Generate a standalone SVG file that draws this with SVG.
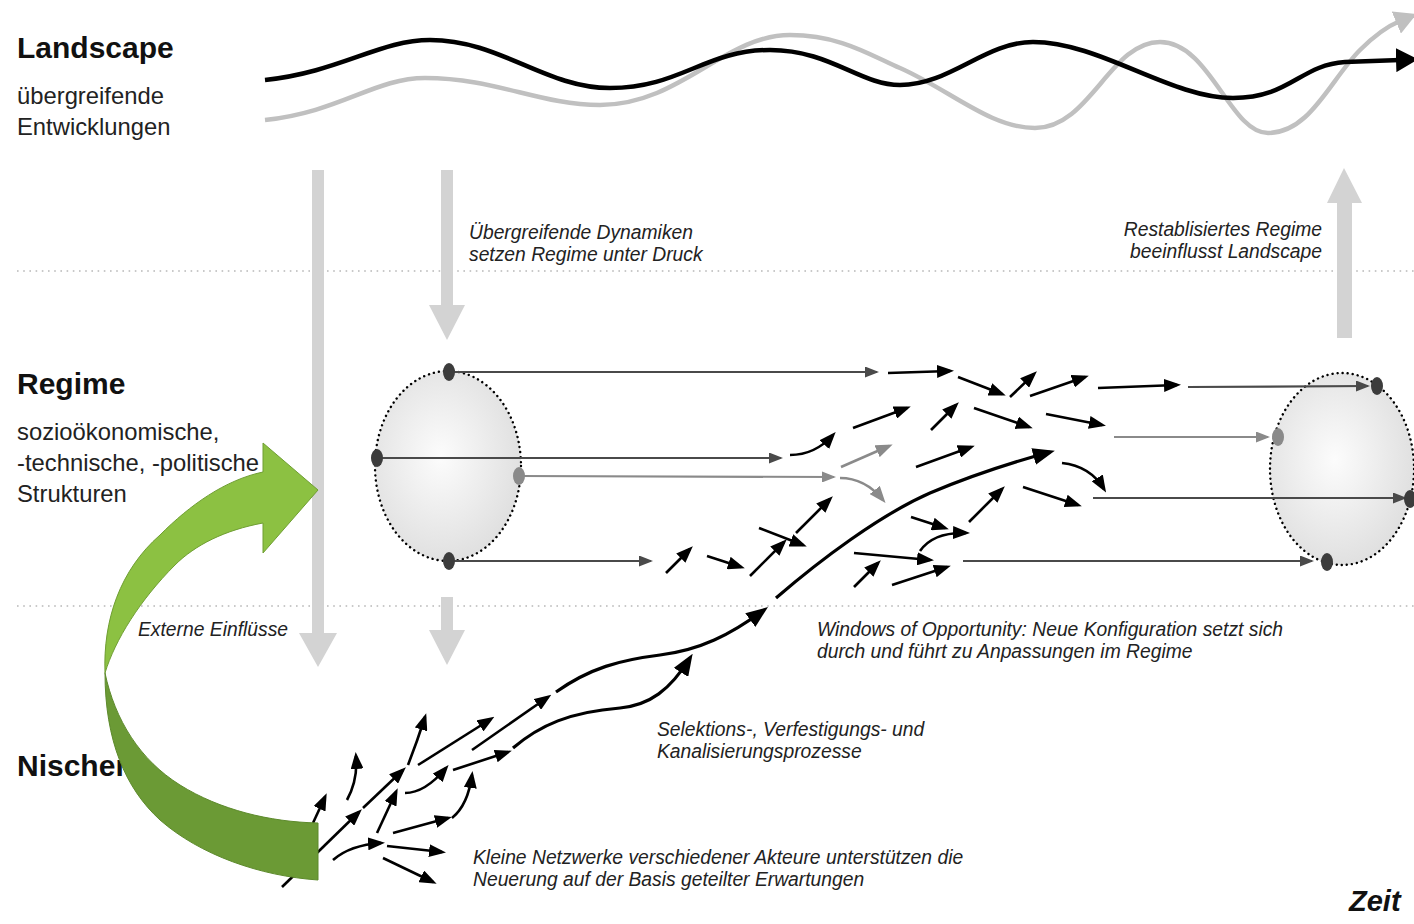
<svg xmlns="http://www.w3.org/2000/svg" width="1414" height="924" viewBox="0 0 1414 924">
<style>
.title{font-family:"Liberation Sans",Arial,sans-serif;font-weight:bold;font-size:30px;fill:#111}
.sub{font-family:"Liberation Sans",Arial,sans-serif;font-size:23.8px;fill:#222}
.note{font-family:"Liberation Sans",Arial,sans-serif;font-style:italic;font-size:19.3px;fill:#222}
.zeit{font-family:"Liberation Sans",Arial,sans-serif;font-style:italic;font-weight:bold;font-size:29px;fill:#111}
.dots{stroke:#b8b8b8;stroke-width:1.6;stroke-dasharray:1.6 4.6;fill:none}
.bar{fill:#d3d3d3}
.rl{stroke:#4a4a4a;stroke-width:2.2;fill:none;marker-end:url(#mdk)}
.rg{stroke:#8a8a8a;stroke-width:2.2;fill:none;marker-end:url(#mgr)}
.sa{stroke:#000;stroke-width:2.6;fill:none;marker-end:url(#mb)}
.sg{stroke:#8a8a8a;stroke-width:2.6;fill:none;marker-end:url(#mg2)}
.ba{stroke:#000;stroke-width:3.2;fill:none;marker-end:url(#mbig)}
.ell{stroke:#000;stroke-width:2.4;stroke-dasharray:0.1 5;stroke-linecap:round;fill:url(#eg)}
</style>
<defs>
<radialGradient id="eg" cx="0.45" cy="0.45" r="0.6">
<stop offset="0" stop-color="#fcfcfc"/>
<stop offset="1" stop-color="#dedede"/>
</radialGradient>
<marker id="mb" markerUnits="userSpaceOnUse" markerWidth="17" markerHeight="13" viewBox="0 0 17 13" refX="13" refY="6.5" orient="auto"><path d="M0,0L17,6.5L0,13Z" fill="#000"/></marker>
<marker id="mg2" markerUnits="userSpaceOnUse" markerWidth="17" markerHeight="13" viewBox="0 0 17 13" refX="13" refY="6.5" orient="auto"><path d="M0,0L17,6.5L0,13Z" fill="#8a8a8a"/></marker>
<marker id="mdk" markerUnits="userSpaceOnUse" markerWidth="14" markerHeight="11" viewBox="0 0 14 11" refX="12" refY="5.5" orient="auto"><path d="M0,0L14,5.5L0,11Z" fill="#4a4a4a"/></marker>
<marker id="mgr" markerUnits="userSpaceOnUse" markerWidth="14" markerHeight="11" viewBox="0 0 14 11" refX="12" refY="5.5" orient="auto"><path d="M0,0L14,5.5L0,11Z" fill="#8a8a8a"/></marker>
<marker id="mbig" markerUnits="userSpaceOnUse" markerWidth="22" markerHeight="17" viewBox="0 0 22 17" refX="17" refY="8.5" orient="auto"><path d="M0,0L22,8.5L0,17Z" fill="#000"/></marker>
<marker id="mwb" markerUnits="userSpaceOnUse" markerWidth="22" markerHeight="24" viewBox="0 0 22 24" refX="4" refY="12" orient="auto"><path d="M0,0L22,12L0,24Z" fill="#000"/></marker>
<marker id="mwg" markerUnits="userSpaceOnUse" markerWidth="22" markerHeight="24" viewBox="0 0 22 24" refX="4" refY="12" orient="auto"><path d="M0,0L22,12L0,24Z" fill="#c0c0c0"/></marker>
</defs>
<rect width="1414" height="924" fill="#fff"/>

<g id="separators">
<line class="dots" x1="17" y1="271" x2="1414" y2="271"/>
<line class="dots" x1="17" y1="606" x2="1414" y2="606"/>
</g>

<g id="landscape-label">
<text class="title" x="17" y="58">Landscape</text>
<text class="sub" x="17" y="104">übergreifende</text>
<text class="sub" x="17" y="135">Entwicklungen</text>
</g>
<g id="regime-label">
<text class="title" x="17" y="394">Regime</text>
<text class="sub" x="17" y="440">sozioökonomische,</text>
<text class="sub" x="17" y="471">-technische, -politische</text>
<text class="sub" x="17" y="502">Strukturen</text>
</g>
<g id="niche-label">
<text class="title" x="17" y="776">Nischen</text>
</g>

<g id="waves">
<path d="M265,120 C340,112 375,78 425,78 C495,78 540,105 600,105 C680,105 725,35 790,35 C840,35 870,55 900,68 C950,90 990,128 1035,128 C1090,128 1110,42 1160,42 C1210,42 1230,133 1268,133 C1310,133 1330,80 1360,50 C1375,35 1388,26 1400,21" fill="none" stroke="#c0c0c0" stroke-width="4.5" marker-end="url(#mwg)"/>
<path d="M265,80 C340,72 380,40 430,40 C500,40 545,88 610,88 C680,88 705,50 770,50 C830,50 860,85 900,85 C950,85 985,42 1033,42 C1100,42 1170,98 1233,98 C1290,98 1300,65 1345,62 L1400,60" fill="none" stroke="#000" stroke-width="4.5" marker-end="url(#mwb)"/>
</g>

<g id="pressure-arrows">
<path class="bar" d="M312,170 H324 V633 H337 L318,667 L299,633 H312 Z"/>
<path class="bar" d="M441,170 H453 V305 H465 L447,340 L429,305 H441 Z"/>
<path class="bar" d="M441,597 H453 V630 H465 L447,665 L429,630 H441 Z"/>
<path class="bar" d="M1337,338 V203 H1327 L1344,168 L1362,203 H1352 V338 Z"/>
</g>

<g id="regime-left">
<ellipse class="ell" cx="448" cy="466" rx="73" ry="95"/>
</g>
<g id="regime-right">
<ellipse class="ell" cx="1342" cy="469" rx="72" ry="96"/>
</g>

<g id="connectors">
<line class="rl" x1="449" y1="372" x2="877" y2="372"/>
<line class="rl" x1="377" y1="458" x2="781" y2="458"/>
<line class="rg" x1="519" y1="476" x2="834" y2="477"/>
<line class="rl" x1="449" y1="561" x2="651" y2="561"/>
<line class="rl" x1="1188" y1="387" x2="1368" y2="386"/>
<line class="rg" x1="1114" y1="437" x2="1268" y2="437"/>
<line class="rl" x1="1093" y1="498" x2="1405" y2="498"/>
<line class="rl" x1="963" y1="561" x2="1312" y2="561"/>

<line class="sa" x1="888" y1="373" x2="950" y2="371"/>
<line class="sa" x1="958" y1="377" x2="1002" y2="394"/>
<line class="sa" x1="1010" y1="397" x2="1034" y2="374"/>
<line class="sa" x1="1030" y1="396" x2="1085" y2="377"/>
<line class="sa" x1="1098" y1="388" x2="1177" y2="385"/>
<line class="sa" x1="853" y1="428" x2="907" y2="408"/>
<line class="sa" x1="931" y1="430" x2="956" y2="405"/>
<line class="sa" x1="974" y1="408" x2="1029" y2="427"/>
<line class="sa" x1="1046" y1="414" x2="1102" y2="425"/>
<path class="sa" d="M790,455 Q815,455 833,435"/>
<line class="sg" x1="841" y1="467" x2="889" y2="446"/>
<path class="sg" d="M840,478 Q865,478 883,500"/>
<line class="sa" x1="916" y1="467" x2="971" y2="447"/>
<path class="sa" d="M1062,463 Q1090,466 1104,489"/>
<line class="sa" x1="1023" y1="487" x2="1078" y2="505"/>
<line class="sa" x1="911" y1="517" x2="945" y2="528"/>
<path class="sa" d="M920,551 Q933,532 966,533"/>
<line class="sa" x1="969" y1="522" x2="1002" y2="489"/>
<line class="sa" x1="854" y1="553" x2="930" y2="560"/>
<line class="sa" x1="854" y1="587" x2="878" y2="563"/>
<line class="sa" x1="892" y1="585" x2="947" y2="567"/>
<line class="sa" x1="666" y1="573" x2="690" y2="549"/>
<line class="sa" x1="707" y1="556" x2="741" y2="567"/>
<line class="sa" x1="750" y1="576" x2="784" y2="542"/>
<line class="sa" x1="759" y1="528" x2="803" y2="545"/>
<line class="sa" x1="796" y1="533" x2="830" y2="499"/>

<path class="ba" d="M776,598 C820,560 880,515 930,493 C975,474 1010,463 1050,452"/>
<path class="ba" d="M556,692 C590,668 620,660 660,655 C700,650 730,635 764,610"/>
<path class="ba" d="M513,748 C540,725 570,712 620,708 C650,705 670,690 690,658"/>

<line class="sa" x1="472" y1="750" x2="548" y2="697"/>
<line class="sa" x1="453" y1="770" x2="508" y2="752"/>
<line class="sa" x1="418" y1="765" x2="491" y2="719"/>
<path class="sa" d="M408,765 Q417,742 425,717"/>
<path class="sa" d="M405,793 Q425,793 446,768"/>
<path class="sa" d="M452,818 Q468,805 472,775"/>
<line class="sa" x1="393" y1="833" x2="448" y2="818"/>
<line class="sa" x1="383" y1="858" x2="433" y2="882"/>
<line class="sa" x1="387" y1="846" x2="442" y2="852"/>
<path class="sa" d="M333,860 Q350,845 381,843"/>
<line class="sa" x1="377" y1="833" x2="396" y2="792"/>
<line class="sa" x1="363" y1="808" x2="403" y2="770"/>
<path class="sa" d="M347,800 Q358,780 356,756"/>
<line class="sa" x1="313" y1="823" x2="325" y2="797"/>
<line class="sa" x1="282" y1="887" x2="359" y2="812"/>
</g>

<g id="regime-dots">
<ellipse cx="449" cy="372" rx="6" ry="9" fill="#3c3c3c"/>
<ellipse cx="377" cy="458" rx="6" ry="9" fill="#3c3c3c"/>
<ellipse cx="519" cy="476" rx="6" ry="9" fill="#8a8a8a"/>
<ellipse cx="449" cy="561" rx="6" ry="9" fill="#3c3c3c"/>
<ellipse cx="1377" cy="386" rx="6" ry="9" fill="#3c3c3c"/>
<ellipse cx="1278" cy="437" rx="6" ry="9" fill="#8a8a8a"/>
<ellipse cx="1410" cy="499" rx="6" ry="9" fill="#3c3c3c"/>
<ellipse cx="1327" cy="562" rx="6" ry="9" fill="#3c3c3c"/>
</g>

<g id="external-influence">
<path d="M318,823 L318,880 C260,876 200,855 160,820 C125,788 105,740 105,673 C115,720 140,760 180,785 C220,810 270,822 318,823 Z" fill="#6b9a35" stroke="#5d8a2c" stroke-width="1"/>
<path d="M105,673 C103,620 120,570 160,535 C190,505 225,480 263,472 L263,443 L318,490 L263,553 L263,523 C225,530 195,545 175,565 C140,600 115,640 105,673 Z" fill="#8cc142" stroke="#6f9e33" stroke-width="1"/>
</g>

<g id="annotations">
<text class="note" x="469" y="239">Übergreifende Dynamiken</text>
<text class="note" x="469" y="261">setzen Regime unter Druck</text>
<text class="note" x="1322" y="236" text-anchor="end">Restablisiertes Regime</text>
<text class="note" x="1322" y="258" text-anchor="end">beeinflusst Landscape</text>
<text class="note" x="138" y="636">Externe Einflüsse</text>
<text class="note" x="817" y="636">Windows of Opportunity: Neue Konfiguration setzt sich</text>
<text class="note" x="817" y="658">durch und führt zu Anpassungen im Regime</text>
<text class="note" x="657" y="736">Selektions-, Verfestigungs- und</text>
<text class="note" x="657" y="758">Kanalisierungsprozesse</text>
<text class="note" x="473" y="864">Kleine Netzwerke verschiedener Akteure unterstützen die</text>
<text class="note" x="473" y="886">Neuerung auf der Basis geteilter Erwartungen</text>
<text class="zeit" x="1349" y="911">Zeit</text>
</g>
</svg>
